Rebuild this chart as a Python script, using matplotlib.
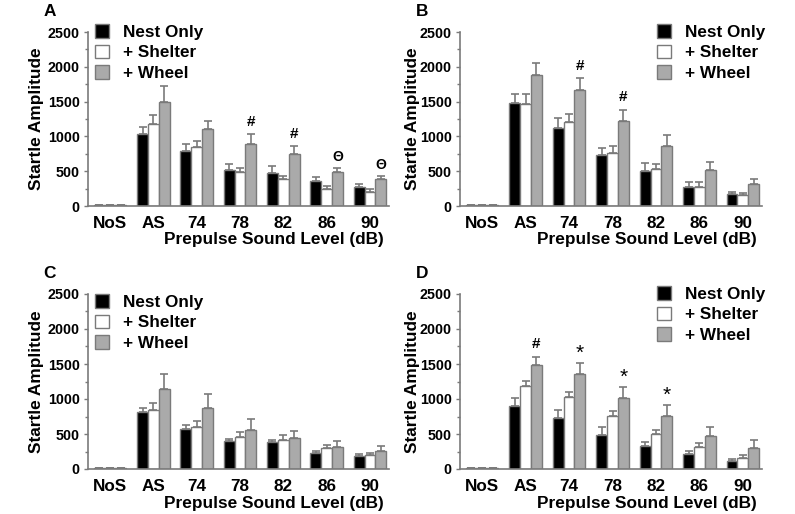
import matplotlib
matplotlib.use("Agg")
import matplotlib.pyplot as plt
import numpy as np
from matplotlib.ticker import MultipleLocator

plt.rcParams['font.family'] = ['Liberation Sans', 'DejaVu Sans']
plt.rcParams['font.weight'] = 'bold'

categories = ['NoS', 'AS', '74', '78', '82', '86', '90']
series_names = ['Nest Only', '+ Shelter', '+ Wheel']

# Panel A
nest_A = [15, 1040, 785, 520, 475, 355, 270]
nest_A_err = [0, 100, 100, 90, 100, 60, 50]
shelter_A = [15, 1185, 845, 490, 390, 250, 205]
shelter_A_err = [0, 120, 96, 60, 45, 40, 40]
wheel_A = [15, 1500, 1100, 885, 745, 490, 385]
wheel_A_err = [0, 220, 120, 145, 110, 60, 50]
marks_A = ['', '', '', '#', '#', 'Θ', 'Θ']

# Panel B
nest_B = [15, 1475, 1125, 730, 505, 274, 168]
nest_B_err = [0, 135, 135, 110, 115, 72, 34]
shelter_B = [15, 1470, 1200, 755, 528, 274, 155]
shelter_B_err = [0, 135, 115, 110, 80, 72, 28]
wheel_B = [20, 1885, 1668, 1220, 865, 524, 322]
wheel_B_err = [0, 165, 170, 165, 150, 110, 72]
marks_B = ['', '', '#', '#', '', '', '']

# Panel C
nest_C = [15, 810, 570, 405, 390, 229, 186]
nest_C_err = [0, 60, 62, 25, 30, 24, 28]
shelter_C = [15, 843, 605, 462, 419, 295, 205]
shelter_C_err = [0, 100, 85, 70, 62, 48, 24]
wheel_C = [15, 1143, 871, 562, 448, 314, 252]
wheel_C_err = [0, 210, 205, 148, 100, 80, 72]
marks_C = ['', '', '', '', '', '', '']

# Panel D
nest_D = [15, 905, 733, 490, 324, 210, 114]
nest_D_err = [0, 110, 110, 105, 66, 47, 29]
shelter_D = [15, 1190, 1029, 762, 505, 319, 162]
shelter_D_err = [0, 70, 66, 62, 52, 57, 33]
wheel_D = [15, 1486, 1362, 1019, 762, 476, 295]
wheel_D_err = [0, 120, 152, 157, 157, 119, 115]
marks_D = ['', '#', '*', '*', '*', '', '']

panel_letters = ['A', 'B', 'C', 'D']

W, H = 795, 514
fig = plt.figure(figsize=(W / 100, H / 100), dpi=100)

edge = '#7a7a7a'
fills = ['#000000', '#ffffff', '#aaaaaa']

def px_axes(left, right, top, bottom):
    return fig.add_axes([left / W, (H - bottom) / H, (right - left) / W, (bottom - top) / H])

panels = [
    dict(box=(88, 389, 32, 206), data=(nest_A, shelter_A, wheel_A), err=(nest_A_err, shelter_A_err, wheel_A_err),
         marks=marks_A, leg=(7, 24), letter=(50, 11), ylab=37),
    dict(box=(460, 762, 32, 206), data=(nest_B, shelter_B, wheel_B), err=(nest_B_err, shelter_B_err, wheel_B_err),
         marks=marks_B, leg=(197, 24), letter=(422, 11), ylab=412),
    dict(box=(88, 389, 294, 469), data=(nest_C, shelter_C, wheel_C), err=(nest_C_err, shelter_C_err, wheel_C_err),
         marks=marks_C, leg=(7, 294), letter=(50, 273), ylab=37),
    dict(box=(460, 762, 294, 469), data=(nest_D, shelter_D, wheel_D), err=(nest_D_err, shelter_D_err, wheel_D_err),
         marks=marks_D, leg=(197, 286), letter=(422, 273), ylab=412),
]

x = np.arange(len(categories))
bw = 0.25

for p, letter in zip(panels, panel_letters):
    l, r, t, b = p['box']
    ax = px_axes(l, r, t, b)
    handles = []
    for i, (vals, errs) in enumerate(zip(p['data'], p['err'])):
        xs = x + (i - 1) * bw
        bars = ax.bar(xs, vals, width=bw, color=fills[i], edgecolor=edge, linewidth=1.0,
                      label=series_names[i], zorder=2)
        handles.append(bars)
        ax.errorbar(xs, vals, yerr=[np.zeros(len(vals)), errs], fmt='none', ecolor=edge,
                    elinewidth=1.2, capsize=3, capthick=1.2, zorder=1)
    wv = np.array(p['data'][2]) + np.array(p['err'][2])
    for xi, top, m in zip(x + bw, wv, p['marks']):
        if not m:
            continue
        if m == '*':
            ax.annotate(m, xy=(xi, top), xytext=(0, 0), textcoords='offset points',
                        ha='center', va='bottom', fontsize=15, fontweight='normal')
        elif m == 'Θ':
            ax.annotate(m, xy=(xi, top), xytext=(0, 3), textcoords='offset points',
                        ha='center', va='bottom', fontsize=10, fontweight='bold')
        else:
            ax.annotate(m, xy=(xi, top), xytext=(0, 4), textcoords='offset points',
                        ha='center', va='bottom', fontsize=11, fontweight='bold')
    ax.set_xlim(-0.51, 6.44)
    ax.set_ylim(0, 2500)
    ax.set_xticks(x)
    ax.set_xticklabels(categories, fontsize=12.3, fontweight='bold')
    ax.yaxis.set_major_locator(MultipleLocator(500))
    ax.yaxis.set_minor_locator(MultipleLocator(250))
    ax.tick_params(axis='x', length=0, pad=7)
    ax.tick_params(axis='y', which='major', length=3, width=1.0, color=edge, labelsize=10.3, pad=3)
    ax.tick_params(axis='y', which='minor', length=2, width=1.0, color=edge)
    for lab in ax.get_yticklabels():
        lab.set_fontweight('bold')
    for s in ['top', 'right']:
        ax.spines[s].set_visible(False)
    for s in ['left', 'bottom']:
        ax.spines[s].set_color(edge)
        ax.spines[s].set_linewidth(1.2)
    ax.text(0.983, -0.195, 'Prepulse Sound Level (dB)', transform=ax.transAxes, ha='right', va='center',
            fontsize=12.4, fontweight='bold')
    ymid = (t + b) / 2
    fig.text(p['ylab'] / W, 1 - ymid / H, 'Startle Amplitude', rotation=90, ha='center', va='center',
             fontsize=12.4, fontweight='bold')
    fig.text(p['letter'][0] / W, 1 - p['letter'][1] / H, letter, ha='center', va='center',
             fontsize=12.4, fontweight='bold')
    lx, ly = p['leg']
    ax.legend(handles=handles, loc='upper left',
              bbox_to_anchor=(lx / (r - l), (b - ly) / (b - t)),
              frameon=False, handlelength=0.8, handleheight=0.85,
              handletextpad=0.85, labelspacing=0.28, borderpad=0, borderaxespad=0,
              prop={'weight': 'bold', 'size': 12.3})

fig.savefig('out.png', dpi=100)
